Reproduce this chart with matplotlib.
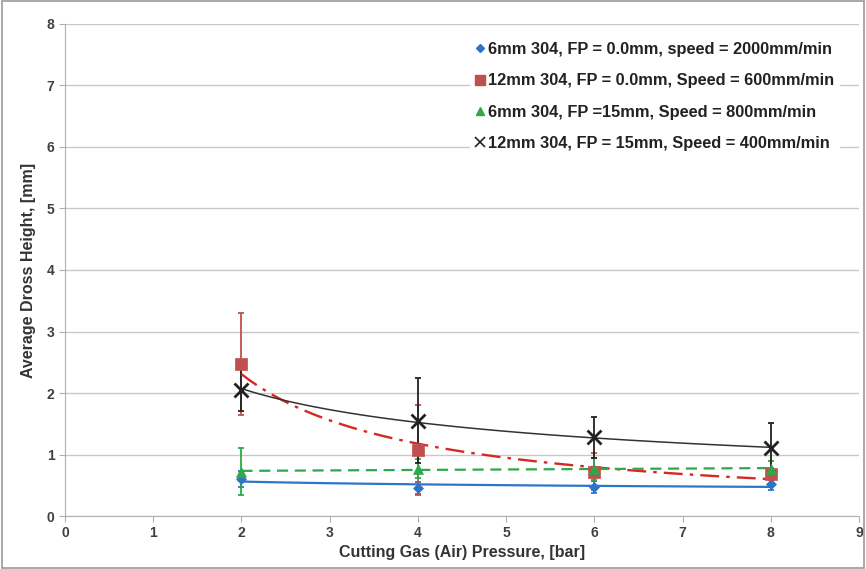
import numpy as np
import matplotlib
matplotlib.use("Agg")
import matplotlib.pyplot as plt
from matplotlib.lines import Line2D
from matplotlib.patches import Rectangle

plt.rcParams['font.family'] = ['Liberation Sans', 'DejaVu Sans']

pressure = [2, 4, 6, 8]

labels = [
    "6mm 304, FP = 0.0mm, speed = 2000mm/min",
    "12mm 304, FP = 0.0mm, Speed = 600mm/min",
    "6mm 304, FP =15mm, Speed = 800mm/min",
    "12mm 304, FP = 15mm, Speed = 400mm/min",
]
blue_vals = [0.60, 0.46, 0.47, 0.52]
blue_err = [0.13, 0.10, 0.10, 0.10]
red_vals = [2.47, 1.07, 0.72, 0.68]
red_err = [0.83, 0.73, 0.30, 0.10]
green_vals = [0.72, 0.77, 0.77, 0.77]
green_err = [0.38, 0.15, 0.18, 0.12]
black_vals = [2.05, 1.55, 1.28, 1.10]
black_err = [0.35, 0.69, 0.33, 0.41]

c_blue = "#2E75C8"
c_red = "#C0504D"
c_red_line = "#D42A22"
c_green = "#2EA84A"
c_black = "#222222"

fig = plt.figure(figsize=(8.66, 5.69), dpi=100)
ax = fig.add_axes([0.075, 0.093, 0.917, 0.865])

def power_fit(x, y):
    b, a = np.polyfit(np.log(x), np.log(y), 1)
    xs = np.linspace(min(x), max(x), 100)
    return xs, np.exp(a) * xs ** b

def lin_fit(x, y):
    m, c = np.polyfit(x, y, 1)
    xs = np.linspace(min(x), max(x), 100)
    return xs, m * xs + c

series = [
    (blue_vals, blue_err, c_blue, c_blue, "D", 5, power_fit, "-", 1.6),
    (red_vals, red_err, c_red, c_red_line, "s", 8, power_fit, (0, (8, 3, 1.5, 3)), 1.7),
    (green_vals, green_err, c_green, c_green, "^", 7, lin_fit, (0, (5, 3)), 1.6),
    (black_vals, black_err, c_black, "#333333", "x", 10, power_fit, "-", 1.1),
]

for vals, err, col, lcol, mk, ms, fit, ls, lw in series:
    ax.errorbar(pressure, vals, yerr=err, fmt="none", ecolor=col, elinewidth=1.3,
                capsize=2.5, capthick=1.3, zorder=3)
    xs, ys = fit(np.array(pressure, float), np.array(vals, float))
    ax.plot(xs, ys, color=lcol, ls=ls, lw=lw, zorder=4)
    ax.plot(pressure, vals, ls="none", marker=mk, color=col, ms=ms,
            mew=2 if mk == "x" else 0.5, zorder=5)

ax.set_xlim(0, 9)
ax.set_ylim(0, 8)
ax.set_xticks(range(0, 10))
ax.set_yticks(range(0, 9))
ax.yaxis.grid(True, color="#C8C8C8", lw=1)
ax.set_axisbelow(True)
for s in ["top", "right"]:
    ax.spines[s].set_visible(False)
for s in ["left", "bottom"]:
    ax.spines[s].set_color("#B0B0B0")
ax.tick_params(axis="both", colors="#B0B0B0", labelcolor="#404040", labelsize=10, length=4)
for t in ax.get_xticklabels() + ax.get_yticklabels():
    t.set_fontweight("bold")

ax.set_xlabel("Cutting Gas (Air) Pressure, [bar]", fontsize=11.5, fontweight="bold", color="#333333", labelpad=3)
ax.set_ylabel("Average Dross Height, [mm]", fontsize=11.5, fontweight="bold", color="#333333", labelpad=8)

handles = [
    Line2D([], [], ls="none", marker="D", color=c_blue, ms=4),
    Line2D([], [], ls="none", marker="s", color=c_red, ms=7),
    Line2D([], [], ls="none", marker="^", color=c_green, ms=6),
    Line2D([], [], ls="none", marker="x", color=c_black, ms=7, mew=1.2),
]
leg = ax.legend(handles, labels, loc="upper right", bbox_to_anchor=(0.985, 0.99),
                frameon=True, fancybox=False, edgecolor="white", framealpha=1,
                prop={"weight": "bold", "size": 11.8}, handlelength=0.6, handletextpad=0.2,
                labelspacing=1.0, borderpad=0.3)
for t in leg.get_texts():
    t.set_color("#222222")

fig.patches.append(Rectangle((0.002, 0.002), 0.996, 0.996, transform=fig.transFigure,
                             fill=False, edgecolor="#999999", lw=1.2))

fig.savefig("out.png", dpi=100)
